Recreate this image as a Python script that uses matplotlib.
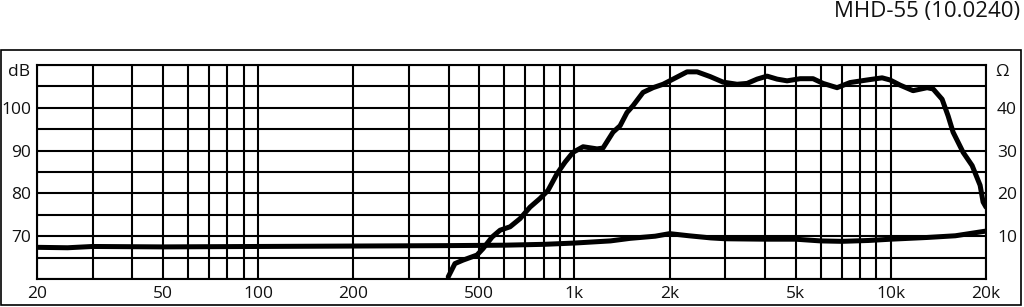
import matplotlib.pyplot as plt
from matplotlib.patches import Rectangle

plt.rcParams['font.family'] = ['Open Sans', 'DejaVu Sans']

# Frequenzgang (dB SPL)
fr_freq = [399, 419, 444, 492, 514, 549, 582, 626, 673, 724, 778, 825, 881, 934,
           990, 1065, 1179, 1231, 1324, 1394, 1466, 1532, 1648, 1772, 1906, 2050,
           2270, 2442, 2684, 2950, 3266, 3514, 3778, 4064, 4372, 4702, 5170, 5680,
           6110, 6764, 7436, 8414, 9390, 9950, 10700, 11760, 13030, 13610, 14530,
           15180, 15740, 16930, 18080, 19160, 19580, 20000]
fr_db = [60.5, 63.6, 64.4, 65.6, 67.1, 69.8, 71.4, 72.2, 74.1, 76.8, 78.8, 80.7,
         84.6, 87.3, 89.6, 90.9, 90.4, 90.6, 94.3, 95.8, 98.9, 100.5, 103.6, 104.7,
         105.5, 106.7, 108.4, 108.4, 107.3, 106.0, 105.5, 105.7, 106.7, 107.4,
         106.7, 106.3, 106.8, 106.8, 105.7, 104.7, 105.9, 106.5, 107.0, 106.5,
         105.3, 104.0, 104.7, 104.4, 102.0, 98.1, 94.3, 89.6, 86.5, 81.9, 78.0, 76.8]

# Impedanz (Ohm)
imp_freq = [20, 25, 30, 50, 100, 200, 400, 600, 800, 1000, 1300, 1500, 1800, 2000,
            2300, 2700, 3000, 4000, 5000, 6000, 7000, 8500, 10000, 13000, 16000, 20000]
imp_ohm = [7.4, 7.3, 7.6, 7.5, 7.6, 7.7, 7.8, 7.9, 8.1, 8.4, 8.9, 9.5, 10.0, 10.6,
           10.1, 9.6, 9.4, 9.3, 9.3, 8.9, 8.8, 9.0, 9.3, 9.7, 10.1, 11.2]

grid_freq = [20, 30, 40, 50, 60, 70, 80, 90, 100, 200, 300, 400, 500, 600, 700, 800,
             900, 1000, 2000, 3000, 4000, 5000, 6000, 7000, 8000, 9000, 10000, 20000]
freq_labels = {20: '20', 50: '50', 100: '100', 200: '200', 500: '500', 1000: '1k',
               2000: '2k', 5000: '5k', 10000: '10k', 20000: '20k'}
db_labels = {70: '70', 80: '80', 90: '90', 100: '100'}
ohm_labels = {10: '10', 20: '20', 30: '30', 40: '40'}

fig = plt.figure(figsize=(10.24, 3.07), dpi=100)
ax = fig.add_axes([37/1024, 28/307, 949/1024, 214/307])
ax.set_xscale('log')
ax.set_xlim(20, 20000)
ax.set_ylim(60, 110)
ax.set_xticks(grid_freq)
ax.set_xticklabels([freq_labels.get(f, '') for f in grid_freq])
ax.minorticks_off()
ax.set_yticks(range(60, 111, 5))
ax.set_yticklabels([db_labels.get(v, '') for v in range(60, 111, 5)])
ax.tick_params(length=0, labelsize=12.5, colors='#111111')
ax.tick_params(axis='x', pad=5)
ax.tick_params(axis='y', pad=4)
ax.grid(True, color='black', lw=1.5)
for s in ax.spines.values():
    s.set_linewidth(1.5)

ax.plot(fr_freq, fr_db, color='black', lw=3.6, solid_joinstyle='round',
        solid_capstyle='round', zorder=5)

ax2 = ax.twinx()
ax2.set_ylim(0, 50)
ax2.set_yticks(range(10, 41, 10))
ax2.set_yticklabels([ohm_labels[v] for v in range(10, 41, 10)])
ax2.tick_params(length=0, labelsize=12.5, colors='#111111', pad=8)
for s in ax2.spines.values():
    s.set_visible(False)
ax2.plot(imp_freq, imp_ohm, color='black', lw=3.6, solid_joinstyle='round',
         solid_capstyle='round', zorder=5)

fig.text(30/1024, 1 - 72/307, 'dB', ha='right', va='center', fontsize=12.5, color='#111111')
fig.text(995/1024, 1 - 72/307, 'Ω', ha='left', va='center', fontsize=12.5, color='#111111')
fig.text(1020/1024, 1 - 12/307, 'MHD-55 (10.0240)', ha='right', va='center',
         fontsize=16, color='#111111')

fig.add_artist(Rectangle((1/1024, 2/307), 1020/1024, 255/307, transform=fig.transFigure,
                         fill=False, lw=1.2, edgecolor='black'))

fig.savefig('out.png', dpi=100)
